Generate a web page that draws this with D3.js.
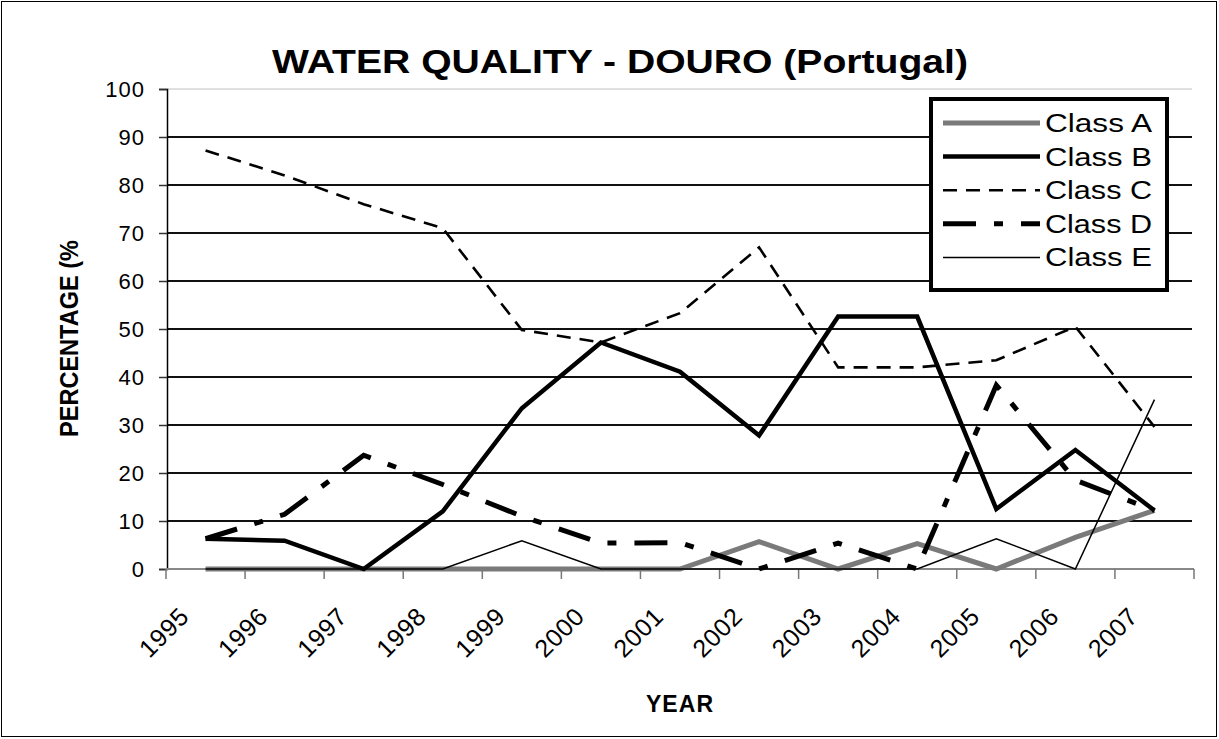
<!doctype html>
<html lang="en">
<head>
  <meta charset="utf-8">
  <title>Water quality - Douro</title>
  <script src="https://d3js.org/d3.v7.min.js"></script>
</head>
<body style="margin: 0; background: #fff;">
  <svg width="1219" height="739"></svg>
  <script>
    // values
    var years = ["1995", "1996", "1997", "1998", "1999", "2000", "2001",
                 "2002", "2003", "2004", "2005", "2006", "2007"];
    var classA = [0, 0, 0, 0, 0, 0, 0, 5.7, 0, 5.3, 0, 6.6, 12.2];
    var classB = [6.3, 5.9, 0, 12, 33.5, 47.2, 41.1, 27.8, 52.6, 52.6, 12.5, 24.8, 12.2];
    var classC = [87.2, 82, 76, 71, 49.8, 47.2, 53.3, 67, 42, 42, 43.5, 50.5, 29.6];
    var classD = [6.3, 11.4, 23.7, 17.6, 11, 5.4, 5.5, 0, 5.4, 0, 38.3, 18.5, 12.2];
    var classE = [0, 0, 0, 0, 5.9, 0, 0, 0, 0, 0, 6.3, 0, 35.3];
    var yTicks = [0, 10, 20, 30, 40, 50, 60, 70, 80, 90, 100];

    var series = [
      { name: "Class A", values: classA, color: "#7a7a7a", width: 5, dash: null },
      { name: "Class B", values: classB, color: "#000", width: 4.5, dash: null },
      { name: "Class C", values: classC, color: "#000", width: 2.6, dash: "14,9" },
      { name: "Class D", values: classD, color: "#000", width: 5, dash: "33,18,9,18" },
      { name: "Class E", values: classE, color: "#000", width: 1.5, dash: null }
    ];

    var font = "Arial, 'Liberation Sans', sans-serif";
    var svg = d3.select("svg");

    // plot area edges (top is a window property, so use other names)
    var plotLeft = 166, plotRight = 1194, plotTop = 89, plotBottom = 569;

    var x = d3.scaleBand().domain(years).range([plotLeft, plotRight]);
    var y = d3.scaleLinear().domain([0, 100]).range([plotBottom, plotTop]);

    // chart border
    svg.append("rect")
        .attr("x", 1.5).attr("y", 1.5)
        .attr("width", 1215).attr("height", 735)
        .attr("fill", "none")
        .attr("stroke", "#000")
        .attr("stroke-width", 1);

    // gridlines
    svg.append("g")
      .selectAll("line")
      .data(yTicks.filter(function(d) { return d > 0; }))
      .enter().append("line")
        .attr("x1", plotLeft + 1).attr("x2", plotRight - 2)
        .attr("y1", function(d) { return y(d); })
        .attr("y2", function(d) { return y(d); })
        .attr("stroke", function(d) { return d == 100 ? "#c0c0c0" : "#111"; })
        .attr("stroke-width", function(d) { return d == 100 ? 1 : 2; });

    // y axis
    var yAxis = svg.append("g")
        .attr("transform", "translate(" + (plotLeft + 1) + ",0)")
        .call(d3.axisLeft(y).tickValues(yTicks).tickSize(8).tickPadding(14));
    yAxis.select(".domain").attr("stroke", "#000").attr("stroke-width", 1.5);
    yAxis.selectAll(".tick line").attr("stroke", "#333").attr("stroke-width", 1.5);
    yAxis.selectAll(".tick text")
        .attr("font-family", font)
        .attr("font-size", 22)
        .attr("letter-spacing", 1)
        .attr("fill", "#000");

    // x axis line and ticks at category boundaries
    var xg = svg.append("g");
    xg.append("line")
        .attr("x1", plotLeft).attr("x2", plotRight)
        .attr("y1", plotBottom).attr("y2", plotBottom)
        .attr("stroke", "#888").attr("stroke-width", 2);
    xg.selectAll(".xt")
      .data(years.concat(["end"]))
      .enter().append("line")
        .attr("class", "xt")
        .attr("x1", function(d) { return d == "end" ? plotRight : x(d); })
        .attr("x2", function(d) { return d == "end" ? plotRight : x(d); })
        .attr("y1", plotBottom).attr("y2", plotBottom + 10)
        .attr("stroke", "#777").attr("stroke-width", 1.5);
    xg.selectAll("text")
      .data(years)
      .enter().append("text")
        .attr("transform", function(d) {
          return "translate(" + (x(d) + x.bandwidth() / 2 - 15) + "," + (plotBottom + 49) + ") rotate(-45)";
        })
        .attr("text-anchor", "end")
        .attr("font-family", font)
        .attr("font-size", 25)
        .attr("letter-spacing", 0.6)
        .text(function(d) { return d; });

    // lines
    var line = d3.line()
        .x(function(d, i) { return x(years[i]) + x.bandwidth() / 2; })
        .y(function(d) { return y(d); });

    svg.append("g")
      .selectAll("path")
      .data(series)
      .enter().append("path")
        .attr("d", function(s) { return line(s.values); })
        .attr("fill", "none")
        .attr("stroke", function(s) { return s.color; })
        .attr("stroke-width", function(s) { return s.width; })
        .attr("stroke-dasharray", function(s) { return s.dash; })
        .attr("stroke-linejoin", "miter");

    // titles
    svg.append("text")
        .attr("x", 272).attr("y", 73)
        .attr("font-family", font)
        .attr("font-size", 33)
        .attr("font-weight", "bold")
        .attr("textLength", 696)
        .attr("lengthAdjust", "spacingAndGlyphs")
        .text("WATER QUALITY - DOURO (Portugal)");

    svg.append("text")
        .attr("x", 646).attr("y", 712)
        .attr("font-family", font)
        .attr("font-size", 23)
        .attr("font-weight", "bold")
        .attr("textLength", 67)
        .text("YEAR");

    svg.append("text")
        .attr("transform", "translate(78,437) rotate(-90)")
        .attr("font-family", font)
        .attr("font-size", 25)
        .attr("font-weight", "bold")
        .attr("textLength", 197)
        .attr("lengthAdjust", "spacingAndGlyphs")
        .text("PERCENTAGE (%");

    // legend
    var legend = svg.append("g");
    legend.append("rect")
        .attr("x", 931).attr("y", 99)
        .attr("width", 236).attr("height", 191)
        .attr("fill", "#fff")
        .attr("stroke", "#000")
        .attr("stroke-width", 4);

    var rows = legend.selectAll(".row")
      .data(series)
      .enter().append("g")
        .attr("class", "row")
        .attr("transform", function(s, i) { return "translate(0," + (123 + i * 33.6) + ")"; });
    rows.append("line")
        .attr("x1", 943).attr("x2", 1040)
        .attr("y1", 0).attr("y2", 0)
        .attr("stroke", function(s) { return s.color; })
        .attr("stroke-width", function(s) { return s.width; })
        .attr("stroke-dasharray", function(s) { return s.dash; });
    rows.append("text")
        .attr("x", 1045).attr("y", 9)
        .attr("font-family", font)
        .attr("font-size", 25)
        .attr("textLength", 107)
        .attr("lengthAdjust", "spacingAndGlyphs")
        .text(function(s) { return s.name; });
  </script>
</body>
</html>
